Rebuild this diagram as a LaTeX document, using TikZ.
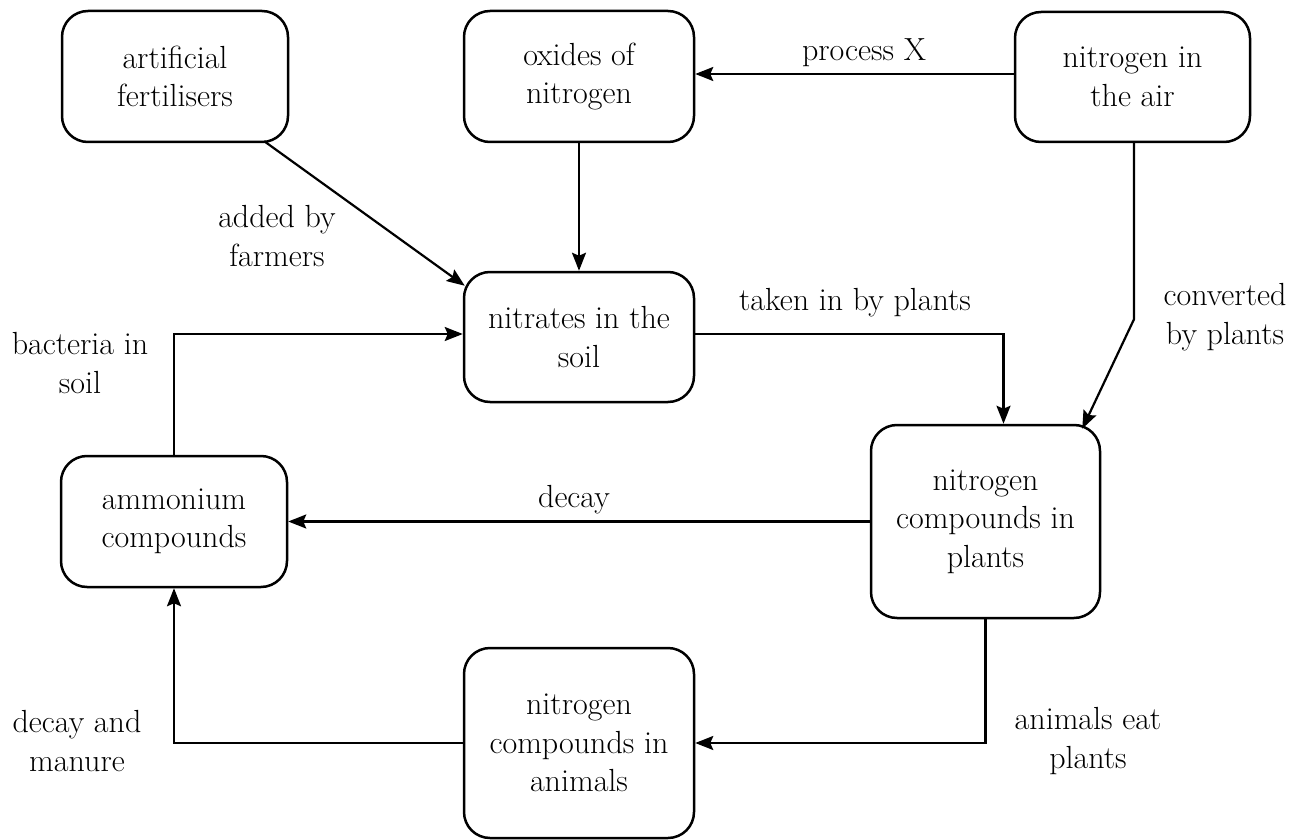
\documentclass[tikz,border=0pt]{standalone}
\usepackage{fontspec}
\usetikzlibrary{arrows.meta,calc}
\begin{document}
\begin{tikzpicture}[x=1pt,y=-1pt,
  txt/.style={font=\fontsize{32}{38.5}\selectfont},
  box/.style={txt,draw,line width=2.5pt,rounded corners=26pt,align=center,inner sep=0pt},
  lbl/.style={txt,align=center,inner sep=0pt},
  conn/.style={line width=2.2pt,-{Stealth[length=18pt,width=14pt,inset=3pt]}}]
\useasboundingbox (0,0) rectangle (1296,840);
% boxes
\node[box,minimum width=226pt,minimum height=131pt] (fert) at (175,76.5) {artificial\\fertilisers};
\node[box,minimum width=230pt,minimum height=131pt] (oxides) at (579,76.5) {oxides of\\nitrogen};
\node[box,minimum width=235pt,minimum height=130pt] (air) at (1132.5,77) {nitrogen in\\the air};
\node[box,minimum width=230pt,minimum height=130pt] (nitrates) at (579,337) {nitrates in the\\soil};
\node[box,minimum width=226pt,minimum height=131pt] (ammonium) at (174,521.5) {ammonium\\compounds};
\node[box,minimum width=229pt,minimum height=193pt] (plants) at (985.5,521.5) {nitrogen\\compounds in\\plants};
\node[box,minimum width=230pt,minimum height=190pt] (animals) at (579,743) {nitrogen\\compounds in\\animals};
% helper coordinates
\coordinate (fertout) at ($(fert.south east)+(-25,-2)$);
\coordinate (nitin) at ($(nitrates.north west)+(2,15)$);
\coordinate (airbend) at ($(air.south)+(1.5,176)$);
\coordinate (plantsin) at ($(plants.north east)+(-19,5)$);
\coordinate (plantstop) at ($(plants.north)+(18,0)$);
\coordinate (airw) at ($(air.west)+(0,-3)$);
\coordinate (nite) at ($(nitrates.east)+(0,-3)$);
\coordinate (nitw) at ($(nitrates.west)+(0,-3)$);
% connectors
\draw[conn] (fertout) -- (nitin);
\draw[conn] (oxides.south) -- (nitrates.north);
\draw[conn] (airw) -- (oxides.east |- airw);
\draw[conn] ($(air.south)+(1.5,0)$) -- (airbend) -- (plantsin);
\draw[conn] (nite) -| (plantstop);
\draw[conn] (plants.west) -- (ammonium.east);
\draw[conn] (plants.south) |- (animals.east);
\draw[conn] (animals.west) -| (ammonium.south);
\draw[conn] (ammonium.north) |- (nitw);
% labels
\node[lbl] (lprocess) at (864,53) {process X};
\node[lbl] (ladded) at (277,236) {added by\\farmers};
\node[lbl] (ltaken) at (855,303) {taken in by plants};
\node[lbl] (lconv) at (1225,317) {converted\\by plants};
\node[lbl] (lbact) at (80,363) {bacteria in\\soil};
\node[lbl] (ldecay) at (574,500) {decay};
\node[lbl] (lanim) at (1088,741) {animals eat\\plants};
\node[lbl] (lmanure) at (77,741) {decay and\\manure};
\end{tikzpicture}
\end{document}
